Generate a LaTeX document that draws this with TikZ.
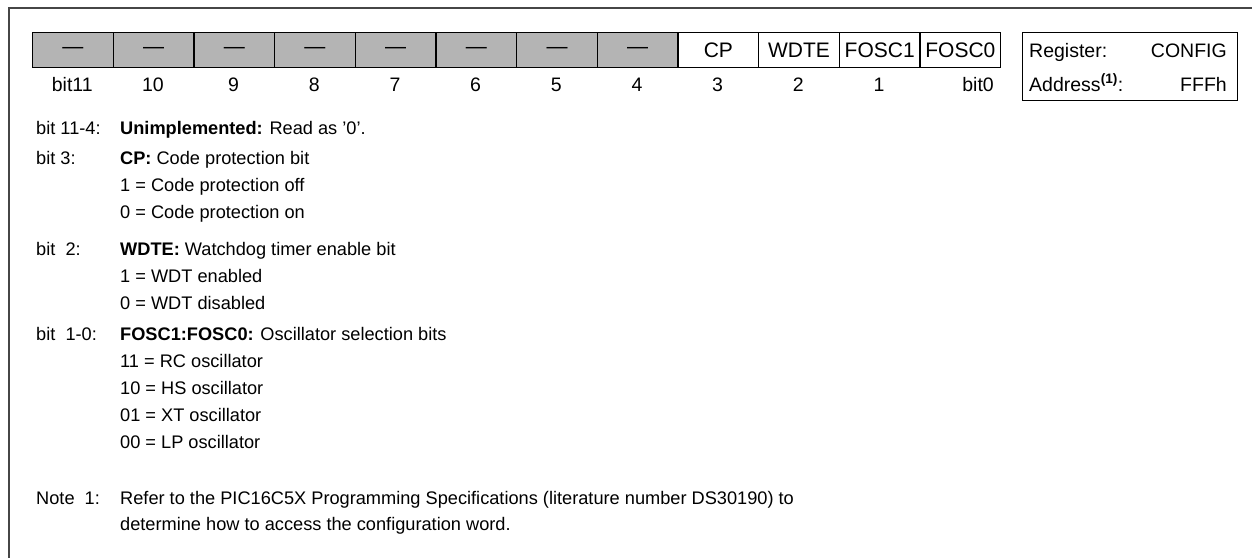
\documentclass[tikz,border=0pt]{standalone}
\usepackage{fontspec}
\setmainfont{Liberation Sans}
\begin{document}
\begin{tikzpicture}[x=1pt,y=-1pt,
  cellbox/.style={draw=black,line width=1.3pt,minimum width=80.67pt,minimum height=35pt,inner sep=0pt,anchor=north west,font=\fontsize{21}{24}\selectfont},
  greycell/.style={cellbox,fill=regGrey},
  bitnum/.style={inner sep=0pt,anchor=base,font=\fontsize{19.5}{24}\selectfont},
  txt/.style={inner sep=0pt,anchor=base west,font=\fontsize{18.2}{22}\selectfont},
  regtxt/.style={inner sep=0pt,font=\fontsize{19.5}{24}\selectfont},
  frameline/.style={draw=frameGrey,line width=2.2pt}]
\definecolor{regGrey}{RGB}{180,180,180}
\definecolor{frameGrey}{RGB}{70,70,70}
\useasboundingbox (0,0) rectangle (1252,558);
% outer frame (top and left edges)
\coordinate (ftr) at (1252,8);
\coordinate (ftl) at (9,8);
\coordinate (fbl) at (9,558);
\draw[frameline] (ftr) -- (ftl) -- (fbl);
% register cells
\foreach \i/\t in {0/11,1/10,2/9,3/8,4/7,5/6,6/5,7/4} {
  \node[greycell] (c\t) at ({32+80.67*\i},32) {---};
}
\node[cellbox] (c3) at ({32+80.67*8},32) {CP};
\node[cellbox] (c2) at ({32+80.67*9},32) {WDTE};
\node[cellbox] (c1) at ({32+80.67*10},32) {FOSC1};
\node[cellbox] (c0) at ({32+80.67*11},32) {FOSC0};
% bit numbers
\foreach \i/\t in {0/bit11,1/10,2/9,3/8,4/7,5/6,6/5,7/4,8/3,9/2,10/1} {
  \node[bitnum] (b\i) at ({72.3+80.67*\i},91) {\t};
}
\node[bitnum,anchor=base east] (b11) at (994,91) {bit0};
% register box
\node[draw=black,line width=1.3pt,minimum width=215pt,minimum height=68pt,anchor=north west,inner sep=0pt] (reg) at (1022,32) {};
\node[regtxt,anchor=base west] (rl1) at (1029,57) {Register:};
\node[regtxt,anchor=base east] (rr1) at (1227,57) {CONFIG};
\node[regtxt,anchor=base west] (rl2) at (1029,91) {Address\textsuperscript{\textbf{(1)}}:};
\node[regtxt,anchor=base east] (rr2) at (1227,91) {FFFh};
% descriptions
\node[txt] (l1) at (36,134) {bit 11-4:};
\node[txt] (d1) at (120,134) {\textbf{Unimplemented:} Read as ’0’.};
\node[txt] (l2) at (36,164) {bit 3:};
\node[txt] (d2) at (120,164) {\textbf{CP:} Code protection bit};
\node[txt] (d2a) at (120,191) {1 = Code protection off};
\node[txt] (d2b) at (120,218) {0 = Code protection on};
\node[txt] (l3) at (36,255) {bit\ \ 2:};
\node[txt] (d3) at (120,255) {\textbf{WDTE:} Watchdog timer enable bit};
\node[txt] (d3a) at (120,282) {1 = WDT enabled};
\node[txt] (d3b) at (120,309) {0 = WDT disabled};
\node[txt] (l4) at (36,340) {bit\ \ 1-0:};
\node[txt] (d4) at (120,340) {\textbf{FOSC1:FOSC0:} Oscillator selection bits};
\node[txt] (d4a) at (120,367) {11 = RC oscillator};
\node[txt] (d4b) at (120,394) {10 = HS oscillator};
\node[txt] (d4c) at (120,421) {01 = XT oscillator};
\node[txt] (d4d) at (120,448) {00 = LP oscillator};
\node[txt] (l5) at (36,504) {Note\ \ 1:};
\node[txt] (d5) at (120,504) {Refer to the PIC16C5X Programming Specifications (literature number DS30190) to};
\node[txt] (d5a) at (120,530) {determine how to access the configuration word.};
\end{tikzpicture}
\end{document}
